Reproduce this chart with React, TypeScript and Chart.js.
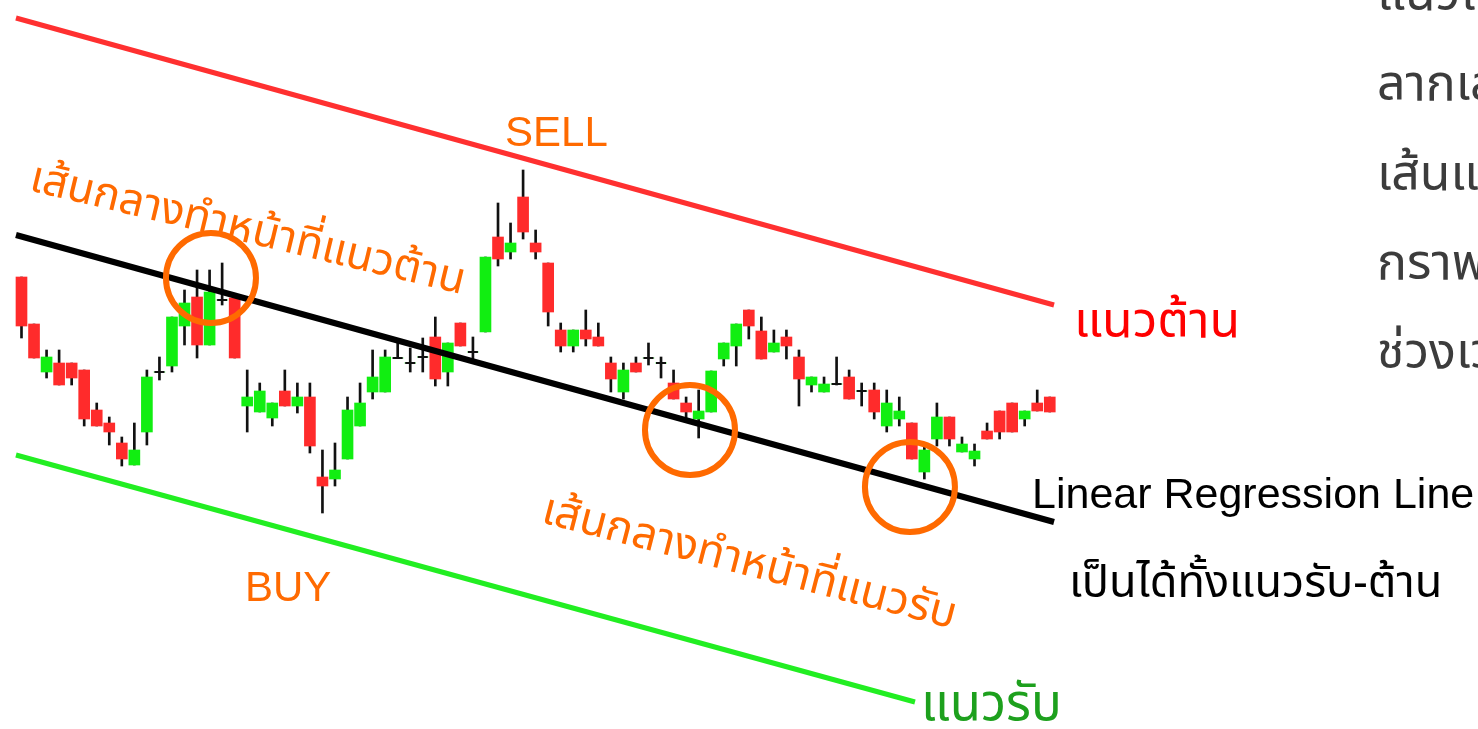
import React, { useEffect, useRef } from "react";
import { Chart, registerables } from "chart.js";

Chart.register(...registerables);

// ---- Candle data (price units) ----
const opens = [
  52.3, 47.6, 42.8, 43.7, 43.7, 43.0, 39.0, 37.7, 35.7, 33.5,
  36.8, 42.8, 43.4, 47.4, 50.3, 45.5, 50.0, 50.2, 39.4, 38.8,
  38.2, 40.9, 39.4, 40.3, 32.3, 32.1, 34.1, 37.4, 40.8, 40.8,
  44.2, 43.7, 44.3, 46.3, 42.8, 47.7, 44.8, 46.8, 56.3, 54.8,
  60.3, 55.7, 53.7, 47.0, 45.4, 47.0, 46.3, 43.7, 40.8, 43.7,
  44.2, 43.7, 41.7, 39.7, 38.1, 38.8, 44.1, 45.4, 49.0, 46.9,
  44.8, 46.3, 44.3, 41.5, 40.8, 41.6, 42.3, 40.9, 41.0, 37.4,
  38.1, 37.7, 32.8, 36.1, 38.3, 34.8, 34.1, 36.9, 38.9, 39.7,
  38.1, 39.7, 40.3,
];
const closes = [
  47.4, 44.2, 44.3, 41.5, 42.2, 38.1, 37.4, 36.8, 34.1, 35.0,
  42.3, 42.8, 48.3, 49.7, 45.5, 50.8, 50.0, 44.2, 40.3, 40.9,
  39.7, 39.4, 40.3, 35.4, 31.4, 33.0, 39.0, 39.7, 42.3, 44.3,
  44.2, 43.7, 44.3, 42.1, 45.7, 45.4, 44.8, 54.3, 54.1, 55.7,
  56.8, 54.8, 48.8, 45.4, 47.0, 46.1, 45.4, 42.1, 43.0, 42.8,
  44.2, 43.7, 40.1, 38.8, 38.9, 42.9, 45.7, 47.6, 47.4, 44.1,
  45.7, 45.4, 42.1, 42.3, 41.6, 41.6, 40.1, 40.9, 38.8, 39.7,
  38.9, 34.1, 35.0, 38.3, 36.1, 35.6, 34.9, 36.1, 36.8, 36.8,
  38.9, 38.9, 38.8,
];
const highs = [
  52.3, 47.6, 45.0, 45.0, 43.7, 43.0, 39.7, 38.3, 36.3, 37.7,
  43.0, 44.3, 48.3, 51.0, 53.0, 53.0, 53.7, 50.2, 43.0, 41.7,
  39.7, 43.0, 41.7, 41.7, 35.0, 35.7, 40.3, 41.7, 45.0, 45.0,
  45.7, 45.2, 46.2, 48.3, 45.7, 47.7, 46.3, 54.3, 59.7, 57.7,
  63.0, 57.0, 53.7, 47.7, 47.0, 49.0, 47.7, 44.3, 43.7, 44.3,
  45.7, 44.3, 43.0, 40.3, 41.0, 42.9, 45.7, 47.6, 49.0, 48.3,
  47.0, 47.0, 45.0, 42.3, 42.3, 44.3, 43.0, 41.7, 41.7, 41.0,
  40.3, 37.7, 35.7, 39.7, 38.3, 36.3, 35.6, 37.7, 38.9, 39.7,
  38.9, 41.0, 40.3,
];
const lows = [
  46.2, 44.2, 42.2, 41.5, 41.5, 37.4, 37.4, 35.5, 33.4, 33.5,
  35.5, 42.0, 42.8, 45.5, 44.2, 45.5, 49.5, 44.2, 36.8, 38.8,
  37.4, 39.4, 38.7, 34.7, 28.7, 31.4, 34.1, 37.4, 40.1, 40.8,
  44.2, 42.8, 42.8, 41.4, 41.4, 45.4, 44.0, 46.8, 53.4, 54.1,
  56.1, 54.1, 47.4, 44.8, 44.8, 45.4, 45.4, 40.8, 40.1, 42.8,
  43.5, 42.2, 40.1, 38.1, 36.2, 38.8, 43.4, 43.4, 46.1, 44.1,
  44.8, 44.1, 39.4, 40.8, 40.8, 41.5, 40.1, 39.4, 38.1, 36.8,
  37.4, 34.1, 32.1, 35.4, 35.4, 34.8, 33.4, 36.1, 36.1, 36.8,
  37.4, 38.9, 38.8,
];

// ---- Channel lines (start/end in candle-index units and price) ----
const resistanceX = [0.56, 83.34];
const resistanceY = [78.2, 49.5];
const regressionX = [0.56, 83.34];
const regressionY = [56.5, 27.8];
const supportX = [0.56, 72.25];
const supportY = [34.5, 9.8];

// ---- Highlight circles (candle index, price) ----
const circleX = [16.11, 54.31, 71.85];
const circleY = [52.2, 37.0, 31.3];

const RED = "#FF2B2B";
const GREEN = "#11EE11";
const ORANGE = "#FF6A00";
const THAI = '"Noto Sans Thai", "Noto Sans Thai Looped", "Tlwg Typo", Loma, Garuda, "Noto Sans", "Liberation Sans", sans-serif';
const LATIN = '"Liberation Sans", Arial, Helvetica, sans-serif';

type Label = { text: string; x: number; y: number; color: string; size: number; family: string; angle?: number };
const labels: Label[] = [
  { text: "SELL", x: 505, y: 146, color: ORANGE, size: 42, family: LATIN },
  { text: "BUY", x: 245, y: 601, color: ORANGE, size: 42, family: LATIN },
  { text: "เส้นกลางทำหน้าที่แนวต้าน", x: 28, y: 190, color: ORANGE, size: 44, family: THAI, angle: 13.5 },
  { text: "เส้นกลางทำหน้าที่แนวรับ", x: 540, y: 522, color: ORANGE, size: 44.5, family: THAI, angle: 14.5 },
  { text: "แนวต้าน", x: 1074, y: 337, color: "#FF0000", size: 50, family: THAI },
  { text: "Linear Regression Line", x: 1032, y: 508, color: "#000000", size: 43, family: LATIN },
  { text: "เป็นได้ทั้งแนวรับ-ต้าน", x: 1069, y: 597, color: "#000000", size: 45, family: THAI },
  { text: "แนวรับ", x: 921, y: 720, color: "#1DA01D", size: 51, family: THAI },
  { text: "แนวโน้มขาลง", x: 1377, y: 10, color: "#3C3C3C", size: 50, family: THAI },
  { text: "ลากเส้นขนาน", x: 1377, y: 100, color: "#3C3C3C", size: 50, family: THAI },
  { text: "เส้นแนวรับ", x: 1377, y: 190, color: "#3C3C3C", size: 50, family: THAI },
  { text: "กราฟราคา", x: 1377, y: 279, color: "#3C3C3C", size: 50, family: THAI },
  { text: "ช่วงเวลา", x: 1377, y: 368, color: "#3C3C3C", size: 50, family: THAI },
];

const textPlugin = {
  id: "textLabels",
  afterDraw(chart: any) {
    const ctx = chart.ctx;
    for (const l of labels) {
      ctx.save();
      ctx.translate(l.x, l.y);
      if (l.angle) ctx.rotate((l.angle * Math.PI) / 180);
      ctx.font = `${l.size}px ${l.family}`;
      ctx.fillStyle = l.color;
      ctx.textAlign = "left";
      ctx.textBaseline = "alphabetic";
      ctx.fillText(l.text, 0, 0);
      ctx.restore();
    }
  },
};

export default function App() {
  const ref = useRef<HTMLCanvasElement>(null);
  useEffect(() => {
    document.body.style.margin = "0";
    const idx = opens.map((_, i) => i + 1);
    const bodies = idx.map((x, i) => ({ x, y: [opens[i], closes[i]] }));
    const wicks = idx.map((x, i) => ({ x, y: [lows[i], highs[i]] }));
    const bodyColors = idx.map((_, i) => (closes[i] >= opens[i] ? GREEN : RED));
    const dojis = idx.filter((_, i) => opens[i] === closes[i]).map((x) => ({ x, y: opens[x - 1] }));
    const mk = (xs: number[], ys: number[]) => xs.map((x, i) => ({ x, y: ys[i] }));

    const chart = new Chart(ref.current!, {
      type: "bar",
      data: {
        datasets: [
          {
            type: "scatter",
            data: mk(circleX, circleY),
            pointRadius: 45,
            pointHoverRadius: 45,
            pointStyle: "circle",
            backgroundColor: "rgba(0,0,0,0)",
            borderColor: ORANGE,
            pointBorderWidth: 6,
            borderWidth: 6,
            clip: false,
            order: -1,
          } as any,
          {
            type: "line",
            data: mk(regressionX, regressionY),
            borderColor: "#000000",
            borderWidth: 6,
            pointRadius: 0,
            order: 0,
          },
          {
            type: "line",
            data: mk(resistanceX, resistanceY),
            borderColor: "#FF3030",
            borderWidth: 5,
            pointRadius: 0,
            order: 0,
          },
          {
            type: "line",
            data: mk(supportX, supportY),
            borderColor: "#22EE22",
            borderWidth: 5,
            pointRadius: 0,
            order: 0,
          },
          {
            type: "scatter",
            data: dojis,
            pointStyle: "line",
            pointRadius: 5,
            borderColor: "#111111",
            borderWidth: 2,
            pointBorderWidth: 2,
            order: 1,
          } as any,
          {
            type: "bar",
            data: bodies as any,
            backgroundColor: bodyColors,
            barThickness: 11,
            grouped: false,
            borderWidth: 0,
            order: 1,
          } as any,
          {
            type: "bar",
            data: wicks as any,
            backgroundColor: "#111111",
            barThickness: 2,
            grouped: false,
            borderWidth: 0,
            order: 2,
          } as any,
        ],
      },
      options: {
        animation: false,
        responsive: false,
        maintainAspectRatio: false,
        devicePixelRatio: 1,
        layout: { padding: 0, autoPadding: false },
        plugins: { legend: { display: false }, tooltip: { enabled: false } },
        events: [],
        scales: {
          x: { type: "linear", min: -0.714, max: 117.15, display: false, offset: false, grid: { display: false } },
          y: { type: "linear", min: 7.1, max: 80, display: false, beginAtZero: false, grid: { display: false } },
        },
      },
      plugins: [textPlugin],
    });
    return () => chart.destroy();
  }, []);
  return (
    <div style={{ position: "fixed", left: 0, top: 0, width: 1478, height: 729, background: "#fff" }}>
      <canvas ref={ref} width={1478} height={729} style={{ display: "block" }} />
    </div>
  );
}
